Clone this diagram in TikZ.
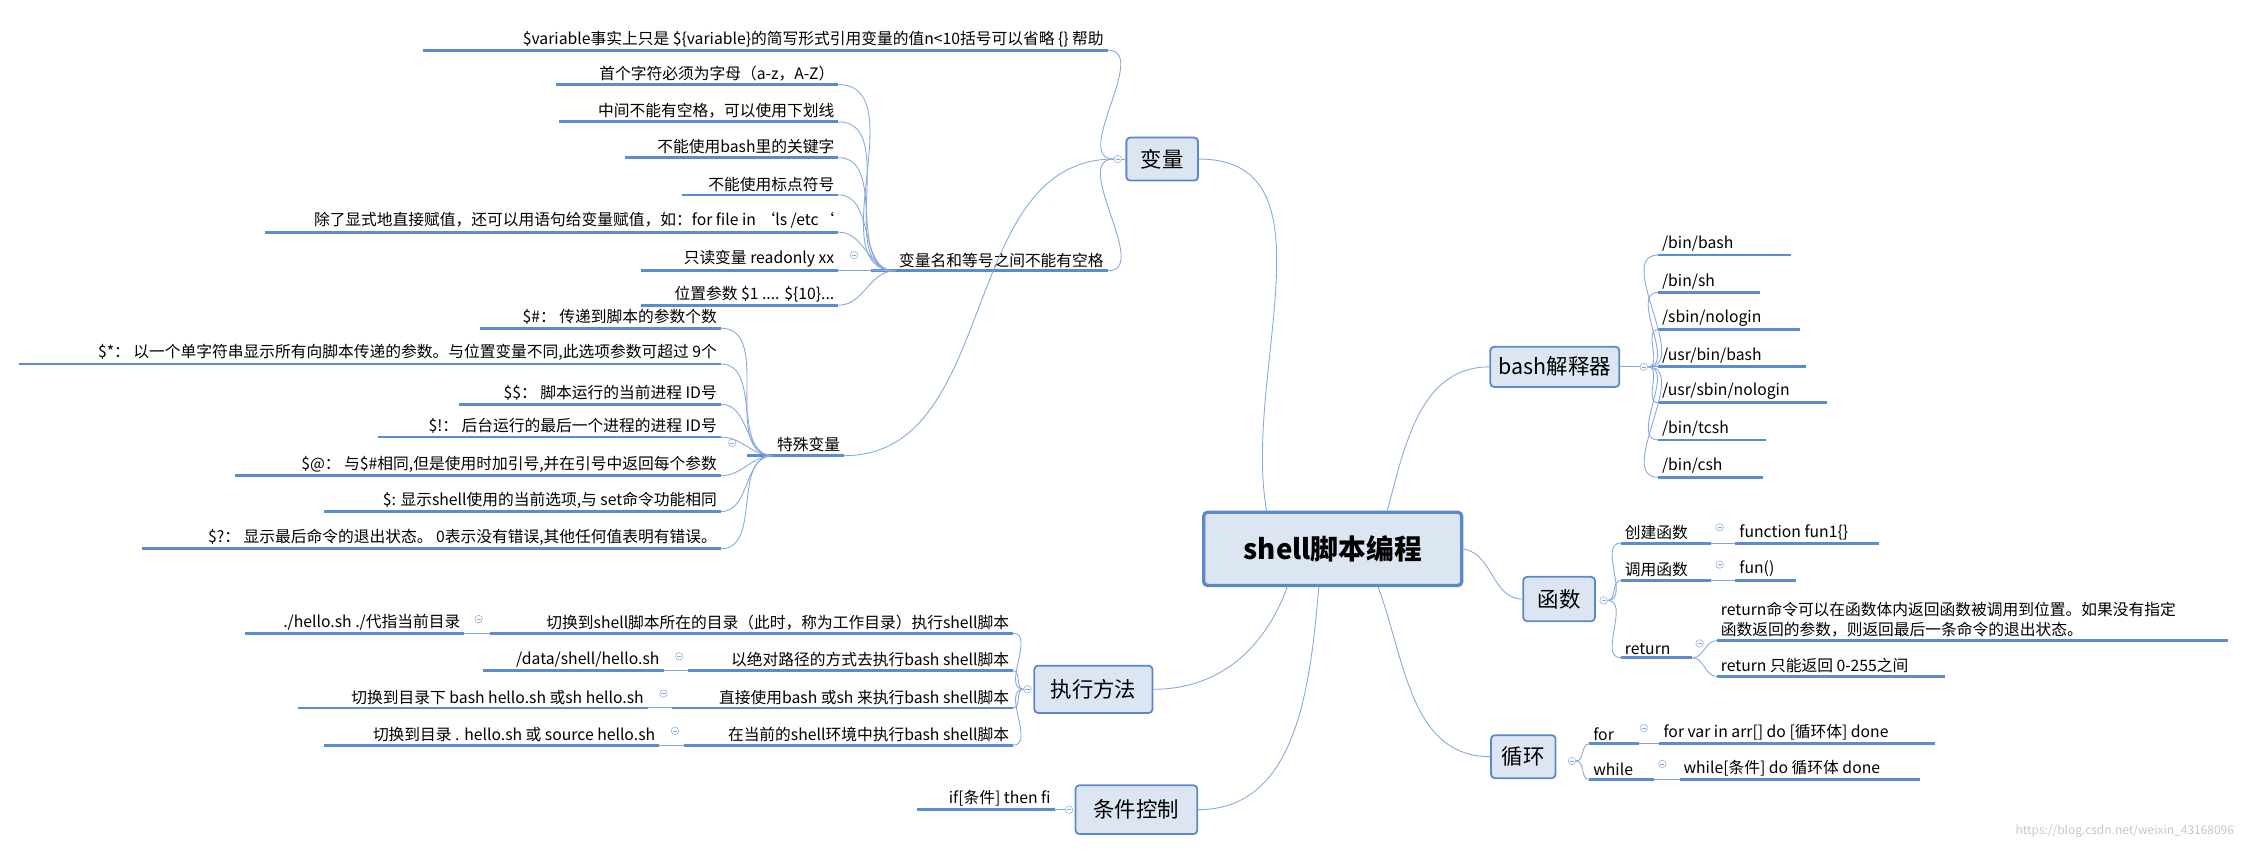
\documentclass[tikz,border=0pt]{standalone}
\usepackage{fontspec}
\setmainfont{Noto Sans CJK SC}
\definecolor{ulc}{HTML}{5B8BD0}
\definecolor{brc}{HTML}{86A8DE}
\definecolor{boxc}{HTML}{5A88C8}
\definecolor{boxf}{HTML}{DCE6F2}
\tikzset{
  leaf/.style={inner xsep=3pt, inner ysep=2.5pt, align=left, font=\fontsize{12.5}{16}\selectfont},
  uline/.style={draw=ulc, line width=2.2pt},
  branch/.style={draw=brc, line width=0.7pt},
  topic/.style={draw=boxc, fill=boxf, rounded corners=3pt, line width=1.4pt,
    font=\fontsize{17}{20}\selectfont},
  fold/.style={circle, draw=brc, fill=white, minimum size=6pt, inner sep=0pt,
    path picture={\draw[brc] ([xshift=-1.6pt]path picture bounding box.center)
      -- ([xshift=1.6pt]path picture bounding box.center);}}
}
% leaf with text ending at the right end of its underline
\newcommand\lleaf[5]{\node[leaf,anchor=south east] (#1) at (#3,#4) {#5};
  \coordinate (#1-e) at (#2,#4); \draw[uline] (#1-e) -- (#1.south east);}
% leaf with text starting at the left end of its underline
\newcommand\rleaf[5]{\node[leaf,anchor=south west] (#1) at (#2,#4) {#5};
  \coordinate (#1-e) at (#3,#4); \draw[uline] (#1.south west) -- (#1-e);}
\newcommand\bq{\char"60\relax}

\begin{document}
\begin{tikzpicture}[x=0.04cm, y=-0.04cm]
    \useasboundingbox (0,0) rectangle (1568,594);

    % root and main topics
    \node[topic, line width=2.6pt, font=\fontsize{22}{26}\selectfont\bfseries,
          minimum width=7.2cm, minimum height=2.04cm] at (930,383) (root) {shell脚本编程};
    \node[topic, minimum width=2cm, minimum height=1.2cm]    at (811,111) (var)  {变量};
    \node[topic, minimum width=3.6cm, minimum height=1.12cm] at (1085,256) (bash) {bash解释器};
    \node[topic, minimum width=2cm, minimum height=1.24cm]   at (1088,418) (fun)  {函数};
    \node[topic, minimum width=1.8cm, minimum height=1.2cm]  at (1063,528) (loop) {循环};
    \node[topic, minimum width=3.3cm, minimum height=1.32cm] at (763,481) (exec) {执行方法};
    \node[topic, minimum width=3.4cm, minimum height=1.36cm] at (793,565) (cond) {条件控制};

    \draw[branch] (root.150) to[out=100,in=0] (var.east);
    \draw[branch] (root.35) to[out=75,in=180] (bash.west);
    \draw[branch] (root.east) to[out=-10,in=180] (fun.west);
    \draw[branch] (root.-40) to[out=-70,in=180] (loop.west);
    \draw[branch] (root.-140) to[out=-110,in=0] (exec.east);
    \draw[branch] (root.-110) to[out=-95,in=0] (cond.east);

    % 变量
    \node[fold] at (780,111) (fv) {};
    \draw[branch] (var.west) -- (fv);
    \lleaf{v1}{295}{773}{35}{\$variable事实上只是 \$\{variable\}的简写形式引用变量的值n<10括号可以省略 \{\} 帮助}
    \lleaf{vn}{608}{773}{189}{变量名和等号之间不能有空格}
    \lleaf{vs}{521}{589}{318}{特殊变量}
    \draw[branch] (fv.west) to[out=180,in=0] (v1.south east);
    \draw[branch] (fv.west) to[out=180,in=0] (vn.south east);
    \draw[branch] (fv.west) to[out=180,in=0] (vs.south east);

    \node[fold] at (596,178) (fvn) {};
    \lleaf{n1}{388}{585}{59}{首个字符必须为字母（a-z，A-Z）}
    \lleaf{n2}{390}{585}{85}{中间不能有空格，可以使用下划线}
    \lleaf{n3}{436}{585}{110}{不能使用bash里的关键字}
    \lleaf{n4}{476}{585}{136}{不能使用标点符号}
    \lleaf{n5}{185}{585}{162}{除了显式地直接赋值，还可以用语句给变量赋值，如：for file in \bq ls /etc\bq}
    \lleaf{n6}{447}{585}{189}{只读变量  readonly xx}
    \lleaf{n7}{447}{585}{213}{位置参数 \$1 .... \$\{10\}...}
    \foreach \n in {n1,n2,n3,n4,n5,n6,n7}
        \draw[branch] (vn.south west) to[out=180,in=0] (\n.south east);

    \node[fold] at (511,309) (fvs) {};
    \lleaf{s1}{335}{503}{229}{\$\#：  传递到脚本的参数个数}
    \lleaf{s2}{13}{503}{254}{\$*：  以一个单字符串显示所有向脚本传递的参数。与位置变量不同,此选项参数可超过 9个}
    \lleaf{s3}{320}{503}{282}{\$\$：  脚本运行的当前进程 ID号}
    \lleaf{s4}{264}{503}{305}{\$!：  后台运行的最后一个进程的进程 ID号}
    \lleaf{s5}{164}{503}{332}{\$@：  与\$\#相同,但是使用时加引号,并在引号中返回每个参数}
    \lleaf{s6}{226}{503}{357}{\$:   显示shell使用的当前选项,与 set命令功能相同}
    \lleaf{s7}{99}{503}{383}{\$?：  显示最后命令的退出状态。 0表示没有错误,其他任何值表明有错误。}
    \foreach \n in {s1,s2,s3,s4,s5,s6,s7}
        \draw[branch] (vs.south west) to[out=180,in=0] (\n.south east);

    % bash解释器
    \node[fold] at (1147,256) (fb) {};
    \draw[branch] (bash.east) -- (fb);
    \rleaf{b1}{1157}{1250}{178}{/bin/bash}
    \rleaf{b2}{1157}{1228}{204}{ /bin/sh}
    \rleaf{b3}{1157}{1256}{230}{/sbin/nologin}
    \rleaf{b4}{1157}{1260}{256}{/usr/bin/bash}
    \rleaf{b5}{1157}{1275}{281}{/usr/sbin/nologin}
    \rleaf{b6}{1157}{1232}{307}{/bin/tcsh}
    \rleaf{b7}{1157}{1230}{333}{/bin/csh}
    \foreach \n in {b1,b2,b3,b4,b5,b6,b7}
        \draw[branch] (fb.east) to[out=0,in=180] (\n.south west);

    % 函数
    \node[fold] at (1119,419) (ff) {};
    \rleaf{f1}{1131}{1194}{379}{创建函数}
    \rleaf{f2}{1131}{1194}{405}{调用函数}
    \rleaf{f3}{1131}{1181}{459}{return}
    \foreach \n in {f1,f2,f3}
        \draw[branch] (ff.east) to[out=0,in=180] (\n.south west);
    \node[fold] at (1200,368) {};
    \rleaf{f1a}{1211}{1311}{379}{function fun1\{\}}
    \draw[branch] (f1-e) -- (f1a.south west);
    \node[fold] at (1200,394) {};
    \rleaf{f2a}{1211}{1253}{405}{fun()}
    \draw[branch] (f2-e) -- (f2a.south west);
    \node[fold] at (1186,449) (ffr) {};
    \rleaf{f3a}{1198}{1555}{447}{return命令可以在函数体内返回函数被调用到位置。如果没有指定\\函数返回的参数，则返回最后一条命令的退出状态。}
    \rleaf{f3b}{1198}{1357}{472}{return 只能返回 0-255之间}
    \draw[branch] (f3-e) to[out=0,in=180] (f3a.south west);
    \draw[branch] (f3-e) to[out=0,in=180] (f3b.south west);

    % 循环
    \node[fold] at (1097,531) (fl) {};
    \rleaf{l1}{1109}{1144}{519}{for}
    \rleaf{l2}{1109}{1154}{544}{while}
    \draw[branch] (fl.east) to[out=0,in=180] (l1.south west);
    \draw[branch] (fl.east) to[out=0,in=180] (l2.south west);
    \node[fold] at (1147,508) {};
    \rleaf{l1a}{1158}{1350}{519}{for var in arr[] do [循环体] done}
    \draw[branch] (l1-e) -- (l1a.south west);
    \node[fold] at (1160,533) {};
    \rleaf{l2a}{1172}{1340}{544}{while[条件] do 循环体 done}
    \draw[branch] (l2-e) -- (l2a.south west);

    % 执行方法
    \node[fold] at (717,481) (fe) {};
    \lleaf{e1}{342}{707}{442}{切换到shell脚本所在的目录（此时，称为工作目录）执行shell脚本}
    \lleaf{e2}{480}{707}{468}{以绝对路径的方式去执行bash shell脚本}
    \lleaf{e3}{469}{707}{494}{直接使用bash 或sh 来执行bash shell脚本}
    \lleaf{e4}{477}{707}{520}{在当前的shell环境中执行bash shell脚本}
    \foreach \n in {e1,e2,e3,e4}
        \draw[branch] (fe.west) to[out=180,in=0] (\n.south east);
    \node[fold] at (334,432) {};
    \lleaf{e1a}{171}{324}{442}{./hello.sh  ./代指当前目录}
    \draw[branch] (e1-e) -- (e1a.south east);
    \node[fold] at (474,458) {};
    \lleaf{e2a}{337}{463}{468}{/data/shell/hello.sh}
    \draw[branch] (e2-e) -- (e2a.south east);
    \node[fold] at (463,484) {};
    \lleaf{e3a}{208}{452}{494}{切换到目录下  bash hello.sh 或sh hello.sh}
    \draw[branch] (e3-e) -- (e3a.south east);
    \node[fold] at (471,510) {};
    \lleaf{e4a}{226}{460}{520}{切换到目录 . hello.sh 或 source hello.sh}
    \draw[branch] (e4-e) -- (e4a.south east);

    % 条件控制
    \node[fold] at (746,565) (fc) {};
    \lleaf{c1}{640}{736}{565}{if[条件] then fi}
    \draw[branch] (fc.west) -- (c1.south east);

    \node[text=gray!45, font=\fontsize{9.5}{12}\selectfont, anchor=east] at (1562,580) (mark) {https://blog.csdn.net/weixin\_43168096};
\end{tikzpicture}
\end{document}
